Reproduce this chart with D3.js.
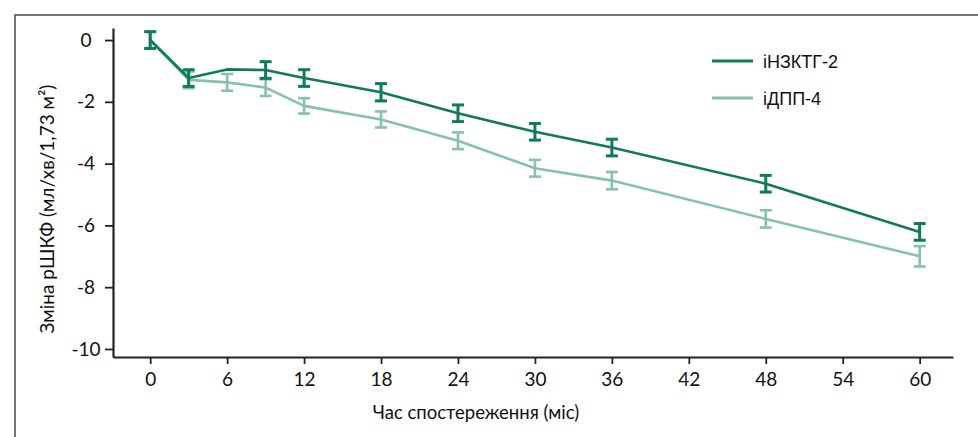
<!DOCTYPE html>
<html>
<head>
<meta charset="utf-8">
<script src="https://cdn.jsdelivr.net/npm/d3@7"></script>
<style>
  html, body { margin: 0; padding: 0; background: #fff; }
  svg { display: block; }
</style>
</head>
<body>
<div id="chart"></div>
<script>
// ---- data ----
const months = [0, 3, 6, 9, 12, 18, 24, 30, 36, 48, 60];
const seriesNames = ["іНЗКТГ-2", "іДПП-4"];
const sglt2Values = [0, -1.23, -0.95, -0.97, -1.23, -1.69, -2.37, -2.97, -3.48, -4.65, -6.21];
const sglt2Errors = [0.27, 0.27, null, 0.27, 0.27, 0.28, 0.27, 0.27, 0.27, 0.27, 0.27];
const dpp4Values = [0, -1.29, -1.37, -1.54, -2.13, -2.57, -3.26, -4.15, -4.55, -5.79, -7.0];
const dpp4Errors = [0.27, 0.27, 0.27, 0.27, 0.25, 0.26, 0.27, 0.27, 0.28, 0.28, 0.33];
const xTicks = [0, 6, 12, 18, 24, 30, 36, 42, 48, 54, 60];
const yTicks = [0, -2, -4, -6, -8, -10];
const xTitle = "Час спостереження (міс)";
const yTitle = "Зміна рШКФ (мл/хв/1,73 м²)";

const colors = ["#0f7a5c", "#86c1ab"];

const W = 978, H = 437;
const svg = d3.select("#chart").append("svg").attr("width", W).attr("height", H);

// outer frame
svg.append("rect").attr("x", 15).attr("y", 15).attr("width", 1000).attr("height", 500)
  .attr("fill", "none").attr("stroke", "#555").attr("stroke-width", 1.6);

const x = d3.scaleLinear().domain([-2.9, 62.6]).range([113, 953]);
const y = d3.scaleLinear().domain([0.39, -10.26]).range([28, 357]);

// axes
const xAxis = svg.append("g").attr("transform", "translate(0,357)")
  .call(d3.axisBottom(x).tickValues(xTicks).tickSizeOuter(0).tickSizeInner(7).tickPadding(9).tickFormat(d => String(d)));
const yAxis = svg.append("g").attr("transform", "translate(113,0)")
  .call(d3.axisLeft(y).tickValues(yTicks).tickSizeOuter(0).tickSizeInner(8).tickPadding(10).tickFormat(d => String(d)));

[xAxis, yAxis].forEach(a => {
  a.select(".domain").attr("stroke", "#222").attr("stroke-width", 2.2);
  a.selectAll(".tick line").attr("stroke", "#222").attr("stroke-width", 1.8);
  a.selectAll(".tick text").attr("fill", "#111").style("font-family", "Lato, sans-serif").style("font-size", "19px");
});
yAxis.selectAll(".tick text").attr("text-anchor", "middle").attr("x", -27);

// titles
svg.append("text").attr("x", 476).attr("y", 419).attr("text-anchor", "middle")
  .style("font-family", "Lato, sans-serif").style("font-size", "18.5px").attr("fill", "#111").text(xTitle);
svg.append("text").attr("transform", "translate(54,209) rotate(-90)").attr("text-anchor", "middle")
  .style("font-family", "Lato, sans-serif").style("font-size", "19px").attr("fill", "#111").text(yTitle);

const series = [
  { name: seriesNames[1], values: dpp4Values, errors: dpp4Errors, color: colors[1], ew: 2.6 },
  { name: seriesNames[0], values: sglt2Values, errors: sglt2Errors, color: colors[0], ew: 3 }
];

const line = d3.line().x(d => x(d.m)).y(d => y(d.v));

series.forEach(s => {
  const pts = months.map((m, i) => ({ m, v: s.values[i], e: s.errors[i] }));
  svg.append("path").datum(pts).attr("d", line).attr("fill", "none")
    .attr("stroke", s.color).attr("stroke-width", 2.6).attr("stroke-linejoin", "round");
  const g = svg.append("g").attr("stroke", s.color).attr("stroke-width", s.ew);
  pts.filter(p => p.e != null).forEach(p => {
    const cx = x(p.m), y1 = y(p.v + p.e), y2 = y(p.v - p.e);
    g.append("line").attr("x1", cx).attr("x2", cx).attr("y1", y1).attr("y2", y2);
    g.append("line").attr("x1", cx - 6).attr("x2", cx + 6).attr("y1", y1).attr("y2", y1);
    g.append("line").attr("x1", cx - 6).attr("x2", cx + 6).attr("y1", y2).attr("y2", y2);
  });
});

// legend
const legend = [
  { name: seriesNames[0], color: colors[0], y: 61 },
  { name: seriesNames[1], color: colors[1], y: 98 }
];
legend.forEach(l => {
  svg.append("line").attr("x1", 712).attr("x2", 753).attr("y1", l.y).attr("y2", l.y)
    .attr("stroke", l.color).attr("stroke-width", 3);
  svg.append("text").attr("x", 763).attr("y", l.y + 7)
    .style("font-family", "'Liberation Sans', Arial, sans-serif").style("font-size", "18px")
    .attr("fill", "#111").text(l.name);
});
</script>
</body>
</html>
